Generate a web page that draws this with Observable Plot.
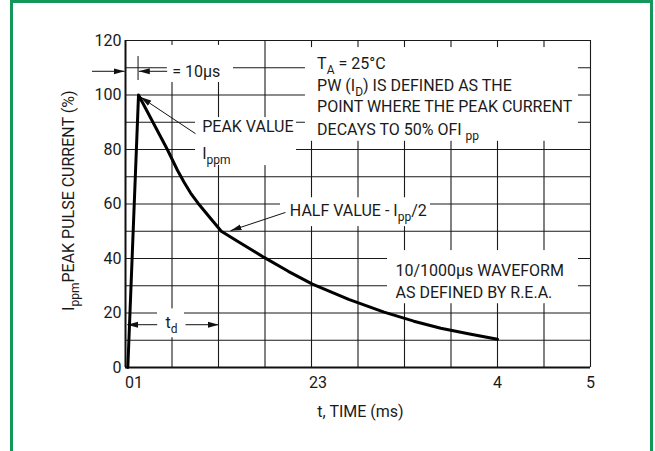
<!DOCTYPE html>
<html><head><meta charset="utf-8">
<script src="https://cdn.jsdelivr.net/npm/d3@7"></script>
<script src="https://cdn.jsdelivr.net/npm/@observablehq/plot@0.6"></script>
<style>
html,body{margin:0;padding:0;background:#fff;overflow:hidden;}
#wrap{position:relative;width:655px;height:451px;overflow:hidden;background:#fff;}
#frame{position:absolute;left:10px;top:0;width:637px;height:470px;border:3px solid #15975a;pointer-events:none;}
#chart{position:absolute;left:0;top:0;}
</style></head><body>
<div id="wrap"><div id="chart"></div><div id="frame"></div></div>
<script>
// Waveform (t in ms, current in % of Ippm)
const timeMs     = [0.025, 0.14, 0.45, 0.56, 0.63, 0.70, 0.78, 0.90, 1.03, 1.20, 1.49, 1.75, 2.01, 2.40, 2.78, 3.10, 3.39, 3.70, 4.00];
const currentPct = [0,     100,  80,   72.3, 68.0, 64.0, 60.3, 55.3, 50.0, 46.4, 40.4, 35.3, 30.6, 25.0, 20.3, 17.0, 14.4, 12.3, 10.4];

// Grid and ticks
const xGridValues = [0.5, 1, 1.5, 2, 2.5, 3, 3.5, 4, 4.5, 5];
const yGridValues = [10, 20, 30, 40, 50, 60, 70, 80, 90, 100, 110, 120];
const yTickValues = [0, 20, 40, 60, 80, 100, 120];
const xTickValues = [0.09, 2.07, 4, 5];
const xTickLabels = ["01", "23", "4", "5"];

// Annotation text lines ({...} = subscript)
const noteText = ["= 10µs", "T{A} = 25°C", "PW (I{D}) IS DEFINED AS THE", "POINT WHERE THE PEAK CURRENT",
                  "DECAYS TO 50% OFI {pp}", "PEAK VALUE", "I{ppm}", "HALF VALUE - I{pp}/2",
                  "10/1000µs WAVEFORM", "AS DEFINED BY R.E.A.", "t{d}"];
const noteX = [0.502, 2.06, 2.06, 2.06, 2.06, 0.825, 0.825, 1.767, 2.903, 2.903, 0.43];
const noteY = [106.5, 109.7, 101.6, 93.6, 85.5, 86.3, 76.6, 55.7, 33.7, 25.4, 14.6];

// White label boxes
const boxX1 = [0.45, 1.935, 0.753, 1.667, 2.817, 0.344];
const boxX2 = [1.161, 4.871, 1.839, 3.28, 4.871, 0.634];
const boxY1 = [104.6, 83.0, 74.1, 51.7, 23.4, 10.9];
const boxY2 = [118.2, 117.4, 91.7, 62.3, 42.9, 21.5];

// Arrows
const arrowX1 = [-0.36, 0.448, 0.753, 1.72, 0.341, 0.645];
const arrowY1 = [108.7, 108.7, 85.8, 56.9, 15.7, 15.7];
const arrowX2 = [-0.01, 0.143, 0.161, 1.129, 0.018, 1.003];
const arrowY2 = [108.7, 108.7, 99.25, 50.2, 15.7, 15.7];

// Small vertical marker at the peak time
const markX = [0.135], markY1 = [105.3], markY2 = [114.1];

// Axis titles
const xTitle = "t, TIME (ms)", xTitleX = 2.527, xTitleY = -18.1;
const yTitle = "I{ppm}PEAK PULSE CURRENT (%)", yTitleX = -0.55, yTitleY = 61.2;

const curve = timeMs.map((t, i) => ({t, v: currentPct[i]}));
const xLabelMap = new Map(xTickValues.map((v, i) => [v, xTickLabels[i]]));
const ink = "#1a1a1a";

const plot = Plot.plot({
  width: 655, height: 451,
  marginLeft: 125, marginRight: 65, marginTop: 40, marginBottom: 84,
  x: {domain: [0, 5]},
  y: {domain: [0, 120]},
  style: {fontFamily: "Roboto, sans-serif", fontSize: "16px", background: "transparent", color: ink},
  marks: [
    Plot.ruleX(xGridValues, {stroke: "#1a1a1a", strokeWidth: 1.1}),
    Plot.ruleY(yGridValues, {stroke: "#1a1a1a", strokeWidth: 1.1}),
    Plot.ruleX([0], {stroke: "#111", strokeWidth: 2}),
    Plot.ruleY([0], {stroke: "#111", strokeWidth: 2}),
    Plot.rect(d3.range(boxX1.length), {x1: i => boxX1[i], x2: i => boxX2[i], y1: i => boxY1[i], y2: i => boxY2[i], fill: "white"}),
    Plot.axisY(yTickValues, {tickSize: 0, tickPadding: 4, label: null, fill: ink}),
    Plot.axisX(xTickValues, {tickSize: 0, tickPadding: 9, label: null, tickFormat: d => xLabelMap.get(d), fill: ink}),
    Plot.link(d3.range(arrowX1.length), {x1: i => arrowX1[i], y1: i => arrowY1[i], x2: i => arrowX2[i], y2: i => arrowY2[i],
      stroke: "#111", strokeWidth: 1, markerEnd: "arrow"}),
    Plot.ruleX(d3.range(markX.length), {x: i => markX[i], y1: i => markY1[i], y2: i => markY2[i], stroke: "#111", strokeWidth: 1}),
    Plot.text(d3.range(noteText.length), {x: i => noteX[i], y: i => noteY[i], text: i => noteText[i],
      textAnchor: "start", lineAnchor: "bottom", fontSize: 16, fill: ink}),
    Plot.text([xTitle], {x: () => xTitleX, y: () => xTitleY, text: d => d, textAnchor: "middle", lineAnchor: "bottom", fontSize: 16, fill: ink}),
    Plot.text([yTitle], {x: () => yTitleX, y: () => yTitleY, text: d => d, rotate: -90, textAnchor: "middle", lineAnchor: "bottom", fontSize: 16, fill: ink}),
    Plot.line(curve, {x: "t", y: "v", stroke: "#000", strokeWidth: 3, strokeLinejoin: "round"})
  ]
});

// filled arrowheads
plot.querySelectorAll("marker").forEach(m => {
  const color = m.getAttribute("stroke") || "#111";
  m.setAttribute("viewBox", "-11 -4 12 8");
  m.setAttribute("markerUnits", "userSpaceOnUse");
  m.setAttribute("markerWidth", "12");
  m.setAttribute("markerHeight", "8");
  m.setAttribute("refX", "0");
  m.setAttribute("refY", "0");
  m.setAttribute("fill", color);
  m.setAttribute("stroke", "none");
  m.innerHTML = "";
  const p = document.createElementNS("http://www.w3.org/2000/svg", "path");
  p.setAttribute("d", "M-11,-3L0,0L-11,3Z");
  m.appendChild(p);
});

// subscripts
const NS = "http://www.w3.org/2000/svg";
plot.querySelectorAll("text, tspan").forEach(el => {
  if (el.children.length) return;
  const s = el.textContent;
  if (!s.includes("{")) return;
  el.textContent = "";
  const parts = s.split(/(\{[^}]*\})/).filter(p => p);
  let wasSub = false;
  parts.forEach(p => {
    const t = document.createElementNS(NS, "tspan");
    if (p.startsWith("{")) {
      t.textContent = p.slice(1, -1);
      t.setAttribute("font-size", "12");
      t.setAttribute("dy", "5");
      wasSub = true;
    } else {
      t.textContent = p;
      if (wasSub) t.setAttribute("dy", "-5");
      wasSub = false;
    }
    el.appendChild(t);
  });
});

document.getElementById("chart").appendChild(plot);
</script>
</body></html>
